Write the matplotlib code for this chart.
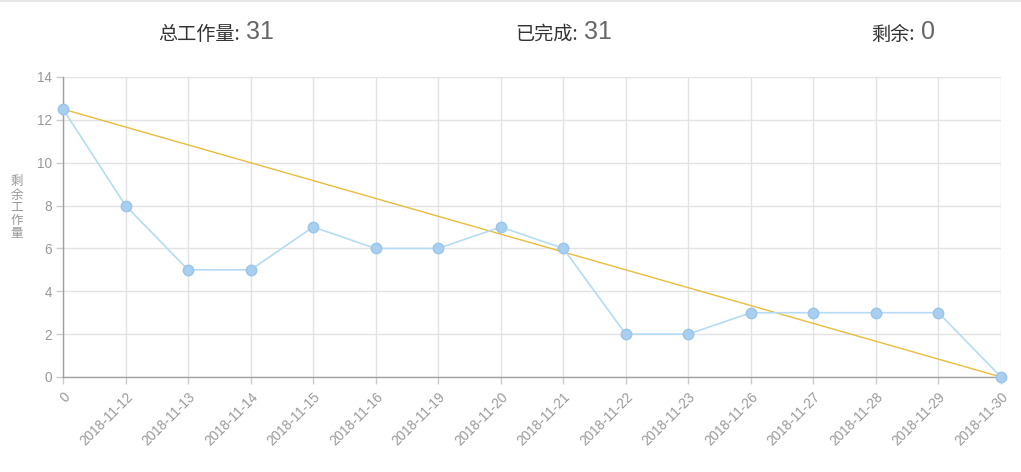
import matplotlib
matplotlib.use("Agg")
import matplotlib.pyplot as plt
from matplotlib.lines import Line2D

categories = ["0", "2018-11-12", "2018-11-13", "2018-11-14", "2018-11-15", "2018-11-16",
              "2018-11-19", "2018-11-20", "2018-11-21", "2018-11-22", "2018-11-23",
              "2018-11-26", "2018-11-27", "2018-11-28", "2018-11-29", "2018-11-30"]
remaining = [12.5, 8, 5, 5, 7, 6, 6, 7, 6, 2, 2, 3, 3, 3, 3, 0]
ideal_idx = [0, 15]
ideal_values = [12.5, 0]
y_ticks = [0, 2, 4, 6, 8, 10, 12, 14]

header_labels = ["总工作量:", "已完成:", "剩余:"]
header_values = ["31", "31", "0"]

plt.rcParams['font.family'] = ['Liberation Sans', 'Noto Sans CJK SC', 'DejaVu Sans']

W, H = 1021, 472
fig = plt.figure(figsize=(W / 100, H / 100), dpi=100)
ax = fig.add_axes([63 / W, 1 - 377 / H, (1001 - 63) / W, (377 - 77) / H])

x = list(range(len(categories)))
ax.plot(ideal_idx, ideal_values, color="#e8bc3c", lw=1.0, zorder=3)
ax.plot(x, remaining, color="#b5dcf2", lw=1.2, marker="o", markersize=7.5,
        markerfacecolor="#a9cff0", markeredgecolor="#9ac4ea", markeredgewidth=1.0,
        zorder=4, clip_on=False)

ax.set_xlim(0, 15)
ax.set_ylim(0, 14)
ax.set_xticks(x)
ax.set_xticklabels(categories, rotation=45, ha="right", va="top", rotation_mode="anchor",
                   fontsize=9.8, color="#999999")
ax.set_yticks(y_ticks)
ax.set_yticklabels([str(v) for v in y_ticks], fontsize=9.8, color="#999999")
ax.tick_params(axis="both", length=5, width=1, color="#cccccc", pad=3)
ax.tick_params(axis="x", pad=4)

ax.grid(True, color="#e3e3e3", lw=1)
ax.set_axisbelow(True)
for s in ["top", "right"]:
    ax.spines[s].set_visible(False)
for s in ["left", "bottom"]:
    ax.spines[s].set_color("#a0a0a0")
    ax.spines[s].set_linewidth(1)

fig.text(17 / W, 1 - 208 / H, "剩\n余\n工\n作\n量", family=['Noto Sans CJK SC'],
         fontsize=9, color="#999999", ha="center", va="center", linespacing=1.0)

# header
label_right = [240, 578, 915]
for lab, val, xr in zip(header_labels, header_values, label_right):
    fig.text(xr / W, 1 - 34 / H, lab, family=['Noto Sans CJK SC'], fontsize=13.8,
             color="#333333", ha="right", va="center")
    fig.text((xr + 6) / W, 1 - 32 / H, val, family=['Liberation Sans'], fontsize=18,
             color="#666666", ha="left", va="center")

fig.add_artist(Line2D([0, 1], [1 - 1 / H, 1 - 1 / H], color="#e8e8e8", lw=1.5,
                      transform=fig.transFigure))

fig.savefig("out.png", dpi=100)
